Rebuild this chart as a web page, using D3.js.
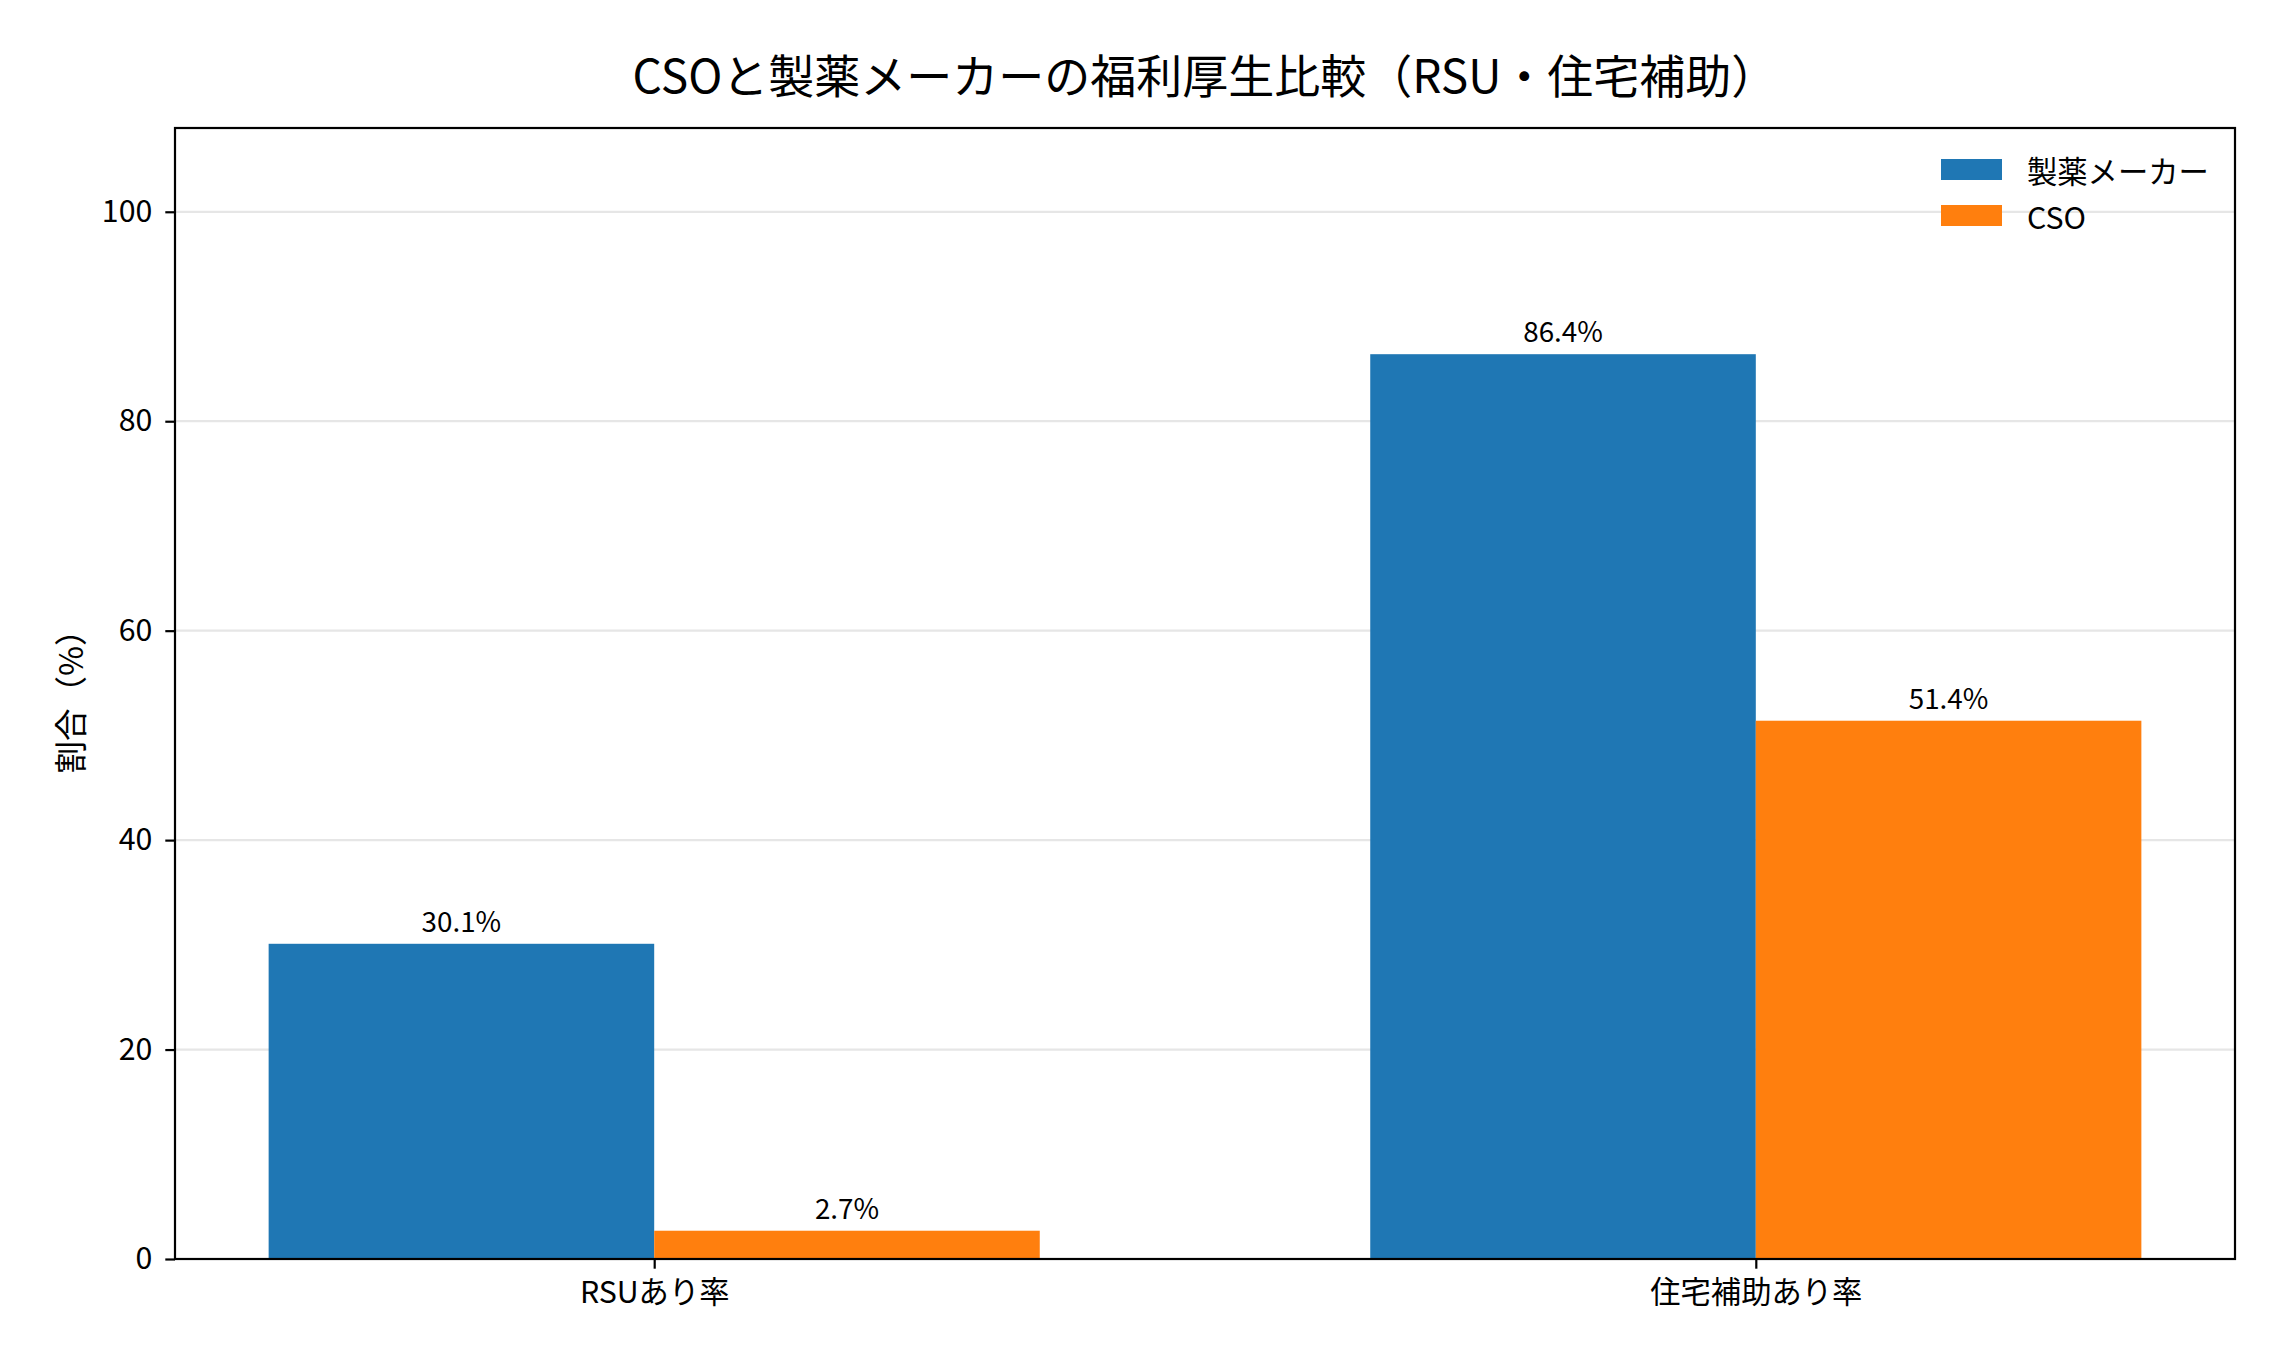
<!DOCTYPE html>
<html>
<head>
<meta charset="utf-8">
<script src="https://cdn.jsdelivr.net/npm/d3@7"></script>
<style>
  body { margin: 0; background: #fff; }
  text { font-family: "Noto Sans CJK JP", "Noto Sans", sans-serif; fill: #000; }
</style>
</head>
<body>
<div id="chart"></div>
<script>
const chart_width = 2291;
const chart_height = 1367;

const categories = ['RSUあり率', '住宅補助あり率'];
const series_names = ['製薬メーカー', 'CSO'];
const maker_values = [30.1, 86.4];
const cso_values = [2.7, 51.4];
const y_ticks = [0, 20, 40, 60, 80, 100];
const colors = ['#1f77b4', '#ff7f0e'];

const plot = { left: 175, right: 2235, top: 128, bottom: 1259 };
const bar_width = 0.35;

const svg = d3.select('#chart')
    .append('svg')
    .attr('width', chart_width)
    .attr('height', chart_height);

//--------------------------------------------------------------------
// Scales
const x_scale = d3.scaleLinear()
    .domain([-0.435, 1.435])
    .range([plot.left, plot.right]);

const y_scale = d3.scaleLinear()
    .domain([0, 108])
    .range([plot.bottom, plot.top]);

//--------------------------------------------------------------------
// Grid lines (behind bars)
svg.append('g')
    .selectAll('line')
    .data(y_ticks)
    .enter()
    .append('line')
    .attr('x1', plot.left)
    .attr('x2', plot.right)
    .attr('y1', d => y_scale(d))
    .attr('y2', d => y_scale(d))
    .attr('stroke', '#e6e6e6')
    .attr('stroke-width', 2.2);

//--------------------------------------------------------------------
// Bars
const bar_data = [];
categories.forEach((c, i) => {
    bar_data.push({ i: i, s: 0, v: maker_values[i] });
    bar_data.push({ i: i, s: 1, v: cso_values[i] });
});

const offset = s => (s === 0 ? -bar_width / 2 : bar_width / 2);

svg.append('g')
    .selectAll('rect')
    .data(bar_data)
    .enter()
    .append('rect')
    .attr('x', d => x_scale(d.i + offset(d.s) - bar_width / 2))
    .attr('width', d => x_scale(bar_width) - x_scale(0))
    .attr('y', d => y_scale(d.v))
    .attr('height', d => y_scale(0) - y_scale(d.v))
    .attr('fill', d => colors[d.s]);

// Value labels
svg.append('g')
    .selectAll('text')
    .data(bar_data)
    .enter()
    .append('text')
    .text(d => d.v.toFixed(1) + '%')
    .attr('text-anchor', 'middle')
    .attr('font-size', 27.8)
    .attr('x', d => x_scale(d.i + offset(d.s)))
    .attr('y', d => y_scale(d.v) - 12);

//--------------------------------------------------------------------
// Axes
const x_axis = d3.axisBottom(x_scale)
    .tickValues(d3.range(categories.length))
    .tickFormat(i => categories[i])
    .tickSize(9.7)
    .tickPadding(13);

const gx = svg.append('g')
    .attr('transform', 'translate(0,' + plot.bottom + ')')
    .call(x_axis);

const y_axis = d3.axisLeft(y_scale)
    .tickValues(y_ticks)
    .tickSize(9.7)
    .tickPadding(13);

const gy = svg.append('g')
    .attr('transform', 'translate(' + plot.left + ',0)')
    .call(y_axis);

[gx, gy].forEach(g => {
    g.select('.domain').remove();
    g.selectAll('.tick line').attr('stroke', '#000').attr('stroke-width', 2.2);
    g.selectAll('.tick text').attr('font-size', 30.3).attr('font-family', '"Noto Sans CJK JP", sans-serif');
});

// Frame
svg.append('rect')
    .attr('x', plot.left)
    .attr('y', plot.top)
    .attr('width', plot.right - plot.left)
    .attr('height', plot.bottom - plot.top)
    .attr('fill', 'none')
    .attr('stroke', '#000')
    .attr('stroke-width', 2.2);

//--------------------------------------------------------------------
// Title and axis label
svg.append('text')
    .text('CSOと製薬メーカーの福利厚生比較（RSU・住宅補助）')
    .attr('text-anchor', 'middle')
    .attr('font-size', 46)
    .attr('x', (plot.left + plot.right) / 2)
    .attr('y', 93);

svg.append('text')
    .text('割合（%）')
    .attr('text-anchor', 'middle')
    .attr('dominant-baseline', 'central')
    .attr('font-size', 32.5)
    .attr('transform', 'translate(68,' + (plot.top + plot.bottom) / 2 + ') rotate(-90)');

//--------------------------------------------------------------------
// Legend
const legend = svg.append('g')
    .selectAll('g')
    .data(series_names)
    .enter()
    .append('g')
    .attr('transform', (d, i) => 'translate(1941,' + (159 + i * 46) + ')');

legend.append('rect')
    .attr('width', 61)
    .attr('height', 21)
    .attr('fill', (d, i) => colors[i]);

legend.append('text')
    .text(d => d)
    .attr('x', 86)
    .attr('y', 10.5)
    .attr('dominant-baseline', 'central')
    .attr('font-size', 30.3);
</script>
</body>
</html>
